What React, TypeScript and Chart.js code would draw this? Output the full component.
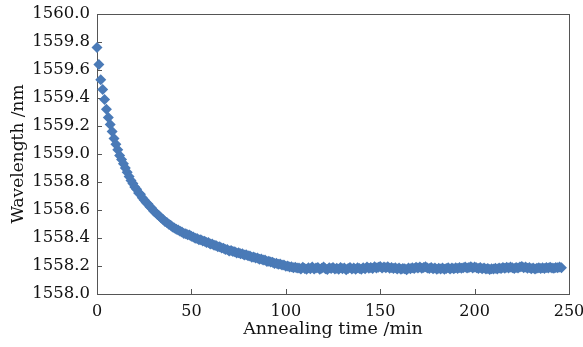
import React, { useEffect, useRef } from "react";
import { Chart, registerables } from "chart.js";

Chart.register(...registerables);

const times: number[] = [
  0, 1, 2, 3, 4, 5, 6, 7, 8, 9,
  10, 11, 12, 13, 14, 15, 16, 17, 18, 19,
  20, 21, 22, 23, 24, 25, 26, 27, 28, 29,
  30, 31, 32, 33, 34, 35, 36, 37, 38, 39,
  40, 41, 42, 43, 44, 45, 46, 47, 48, 49,
  50, 51, 52, 53, 54, 55, 56, 57, 58, 59,
  60, 61, 62, 63, 64, 65, 66, 67, 68, 69,
  70, 71, 72, 73, 74, 75, 76, 77, 78, 79,
  80, 81, 82, 83, 84, 85, 86, 87, 88, 89,
  90, 91, 92, 93, 94, 95, 96, 97, 98, 99,
  100, 101, 102, 103, 104, 105, 106,
  107, 108, 109, 110, 111, 112, 113, 114, 115, 116,
  117, 118, 119, 120, 121, 122, 123, 124, 125, 126,
  127, 128, 129, 130, 131, 132, 133, 134, 135, 136,
  137, 138, 139, 140, 141, 142, 143, 144, 145, 146,
  147, 148, 149, 150, 151, 152, 153, 154, 155, 156,
  157, 158, 159, 160, 161, 162, 163, 164, 165, 166,
  167, 168, 169, 170, 171, 172, 173, 174, 175, 176,
  177, 178, 179, 180, 181, 182, 183, 184, 185, 186,
  187, 188, 189, 190, 191, 192, 193, 194, 195, 196,
  197, 198, 199, 200, 201, 202, 203, 204, 205, 206,
  207, 208, 209, 210, 211, 212, 213, 214, 215, 216,
  217, 218, 219, 220, 221, 222, 223, 224, 225, 226,
  227, 228, 229, 230, 231, 232, 233, 234, 235, 236,
  237, 238, 239, 240, 241, 242, 243, 244, 245, 246,
];

const wavelengths: number[] = [
  1559.76, 1559.64, 1559.53, 1559.46, 1559.39, 1559.32, 1559.26, 1559.21, 1559.16, 1559.11,
  1559.07, 1559.03, 1558.99, 1558.96, 1558.93, 1558.9, 1558.87, 1558.84, 1558.81, 1558.79,
  1558.765, 1558.748, 1558.722, 1558.712, 1558.688, 1558.672, 1558.653, 1558.642, 1558.623, 1558.612,
  1558.593, 1558.583, 1558.568, 1558.557, 1558.543, 1558.532, 1558.518, 1558.511, 1558.498, 1558.491,
  1558.478, 1558.472, 1558.463, 1558.457, 1558.448, 1558.442, 1558.433, 1558.431, 1558.423, 1558.421,
  1558.413, 1558.407, 1558.398, 1558.397, 1558.388, 1558.387, 1558.378, 1558.377, 1558.368, 1558.367,
  1558.358, 1558.357, 1558.348, 1558.347, 1558.338, 1558.337, 1558.328, 1558.327, 1558.318, 1558.317,
  1558.308, 1558.31, 1558.303, 1558.302, 1558.293, 1558.294, 1558.288, 1558.287, 1558.278, 1558.28,
  1558.273, 1558.272, 1558.263, 1558.264, 1558.258, 1558.257, 1558.248, 1558.25, 1558.243, 1558.242,
  1558.233, 1558.234, 1558.228, 1558.227, 1558.218, 1558.22, 1558.213, 1558.214, 1558.208, 1558.207,
  1558.198, 1558.2, 1558.193, 1558.194, 1558.188, 1558.191, 1558.186,
  1558.186, 1558.179, 1558.191, 1558.183, 1558.176, 1558.188, 1558.181, 1558.193, 1558.178, 1558.185,
  1558.19, 1558.177, 1558.184, 1558.192, 1558.18, 1558.175, 1558.187, 1558.182, 1558.19, 1558.178,
  1558.184, 1558.176, 1558.189, 1558.181, 1558.186, 1558.174, 1558.183, 1558.19, 1558.179, 1558.185,
  1558.177, 1558.188, 1558.182, 1558.176, 1558.187, 1558.181, 1558.192, 1558.184, 1558.189, 1558.183,
  1558.194, 1558.186, 1558.191, 1558.197, 1558.185, 1558.192, 1558.188, 1558.195, 1558.184, 1558.19,
  1558.182, 1558.188, 1558.179, 1558.185, 1558.176, 1558.183, 1558.18, 1558.174, 1558.186, 1558.181,
  1558.188, 1558.183, 1558.191, 1558.186, 1558.193, 1558.184, 1558.19, 1558.195, 1558.186, 1558.182,
  1558.189, 1558.18, 1558.185, 1558.177, 1558.184, 1558.179, 1558.186, 1558.176, 1558.182, 1558.188,
  1558.179, 1558.185, 1558.181, 1558.187, 1558.183, 1558.19, 1558.184, 1558.188, 1558.192, 1558.185,
  1558.19, 1558.195, 1558.186, 1558.193, 1558.188, 1558.183, 1558.189, 1558.18, 1558.185, 1558.178,
  1558.183, 1558.175, 1558.181, 1558.178, 1558.184, 1558.179, 1558.186, 1558.182, 1558.189, 1558.184,
  1558.191, 1558.186, 1558.193, 1558.188, 1558.183, 1558.19, 1558.185, 1558.192, 1558.196, 1558.187,
  1558.193, 1558.184, 1558.189, 1558.181, 1558.186, 1558.179, 1558.184, 1558.188, 1558.182, 1558.187,
  1558.183, 1558.189, 1558.185, 1558.191, 1558.186, 1558.184, 1558.19, 1558.187, 1558.193, 1558.188,
];

const xTitle = "Annealing time /min";
const yTitle = "Wavelength /nm";

const FONT = "'DejaVu Serif', serif";
const AXIS_COLOR = "#555555";
const MARK_COLOR = "#4a7ab7";

const frameAndTicks = {
  id: "frameAndTicks",
  beforeDatasetsDraw(chart: any) {
    const { ctx, chartArea, scales } = chart;
    const { left, right, top, bottom } = chartArea;
    ctx.save();
    ctx.strokeStyle = AXIS_COLOR;
    ctx.lineWidth = 1;
    ctx.strokeRect(left + 0.5, top + 0.5, right - left, bottom - top);
    ctx.beginPath();
    scales.x.ticks.forEach((t: any) => {
      const px = Math.round(scales.x.getPixelForValue(t.value)) + 0.5;
      ctx.moveTo(px, bottom);
      ctx.lineTo(px, bottom - 5);
    });
    scales.y.ticks.forEach((t: any) => {
      const py = Math.round(scales.y.getPixelForValue(t.value)) + 0.5;
      ctx.moveTo(left, py);
      ctx.lineTo(left + 5, py);
    });
    ctx.stroke();
    ctx.restore();
  },
};

export default function App() {
  const ref = useRef<HTMLCanvasElement>(null);

  useEffect(() => {
    document.body.style.margin = "0";
    const points = times.map((t, i) => ({ x: t, y: wavelengths[i] }));
    const chart = new Chart(ref.current!, {
      type: "scatter",
      data: {
        datasets: [
          {
            data: points,
            pointStyle: "rectRot",
            pointRadius: 5.5,
            pointBackgroundColor: MARK_COLOR,
            pointBorderColor: MARK_COLOR,
            pointBorderWidth: 0,
            showLine: false,
            clip: false,
          },
        ],
      },
      options: {
        animation: false,
        responsive: true,
        maintainAspectRatio: false,
        layout: { padding: { top: 14, right: 14, left: 0, bottom: 0 } },
        plugins: { legend: { display: false }, tooltip: { enabled: false } },
        scales: {
          x: {
            type: "linear",
            min: 0,
            max: 250,
            grid: { display: false, drawTicks: false },
            border: { display: false },
            ticks: {
              stepSize: 50,
              color: "#111",
              padding: 8,
              font: { family: FONT, size: 16 },
            },
            title: {
              display: true,
              text: xTitle,
              color: "#111",
              padding: { top: 0, bottom: 7 },
              font: { family: FONT, size: 17.5 },
            },
            afterFit: (s: any) => {
              s.height = 53;
              s.paddingLeft = 0;
              s.paddingRight = 0;
            },
          },
          y: {
            min: 1558,
            max: 1560,
            grid: { display: false, drawTicks: false },
            border: { display: false },
            ticks: {
              stepSize: 0.2,
              color: "#111",
              padding: 7,
              font: { family: FONT, size: 16.5 },
              callback: (v: any) => Number(v).toFixed(1),
            },
            title: {
              display: true,
              text: yTitle,
              color: "#111",
              padding: { top: 8, bottom: 0 },
              font: { family: FONT, size: 17 },
            },
            afterFit: (s: any) => {
              s.width = 97;
              s.paddingTop = 0;
              s.paddingBottom = 0;
            },
          },
        },
      },
      plugins: [frameAndTicks],
    });
    return () => chart.destroy();
  }, []);

  return (
    <div style={{ position: "fixed", left: 0, top: 0, width: 583, height: 347, background: "#fff" }}>
      <canvas ref={ref} />
    </div>
  );
}
